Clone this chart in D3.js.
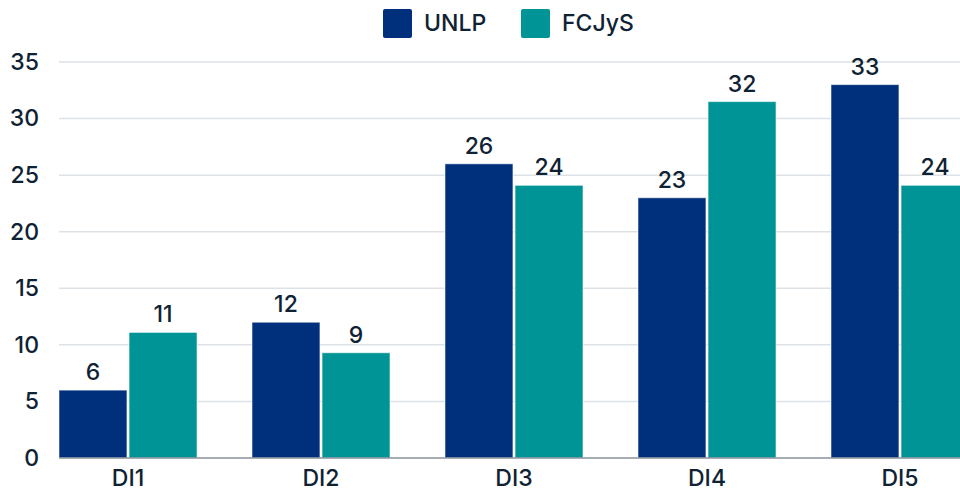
<!DOCTYPE html>
<html>
<head>
<meta charset="utf-8">
<script src="https://cdn.jsdelivr.net/npm/d3@7"></script>
<style>
  html, body { margin: 0; padding: 0; background: #fff; }
  svg { display: block; font-family: Inter, "Open Sans", sans-serif; font-weight: 500; }
</style>
</head>
<body>
<svg id="chart" width="960" height="497"></svg>
<script>
const categories = ["DI1", "DI2", "DI3", "DI4", "DI5"];
const seriesNames = ["UNLP", "FCJyS"];
const unlpValues = [6, 12, 26, 23, 33];
const fcjysValues = [11.1, 9.3, 24.1, 31.5, 24.1];
const yTicks = [0, 5, 10, 15, 20, 25, 30, 35];
const colors = ["#002f7c", "#009496"];

const svg = d3.select("#chart");
const textColor = "#0f2233";
const fs = 23;

const y = d3.scaleLinear().domain([0, 35]).range([458, 62]);
const x0 = d3.scaleBand().domain(categories).range([59, 969]).paddingInner(55 / 193).paddingOuter(0);
const x1 = d3.scaleBand().domain(seriesNames).range([0, x0.bandwidth()]).paddingInner(0.03);

const series = [unlpValues, fcjysValues];

// gridlines
svg.append("g")
  .selectAll("line")
  .data(yTicks.filter(t => t > 0))
  .join("line")
  .attr("x1", 59).attr("x2", 960)
  .attr("y1", d => y(d)).attr("y2", d => y(d))
  .attr("stroke", "#dde2e7").attr("stroke-width", 1.5);

// y axis labels
const yAxis = d3.axisLeft(y).tickValues(yTicks).tickSize(0).tickPadding(0).tickFormat(d3.format("d"));
const yg = svg.append("g").attr("transform", "translate(39,0)").call(yAxis);
yg.select(".domain").remove();
yg.selectAll("text").attr("font-size", fs).attr("fill", textColor).attr("font-family", "Inter, sans-serif").attr("font-weight", 500);

// bars
const groups = svg.append("g").selectAll("g")
  .data(categories)
  .join("g")
  .attr("transform", d => `translate(${x0(d)},0)`);

groups.selectAll("rect")
  .data((d, i) => seriesNames.map((s, j) => ({ s, v: series[j][i] })))
  .join("rect")
  .attr("x", d => x1(d.s))
  .attr("y", d => y(d.v))
  .attr("width", x1.bandwidth())
  .attr("height", d => y(0) - y(d.v))
  .attr("fill", d => colors[seriesNames.indexOf(d.s)])
  .attr("stroke", "rgba(255,255,255,0.55)")
  .attr("stroke-width", 1);

groups.selectAll("text")
  .data((d, i) => seriesNames.map((s, j) => ({ s, v: series[j][i] })))
  .join("text")
  .attr("x", d => x1(d.s) + x1.bandwidth() / 2)
  .attr("y", d => y(d.v) - 10)
  .attr("text-anchor", "middle")
  .attr("font-size", fs)
  .attr("fill", textColor)
  .text(d => d3.format(".0f")(d.v));

// baseline
svg.append("line")
  .attr("x1", 59).attr("x2", 960)
  .attr("y1", y(0)).attr("y2", y(0))
  .attr("stroke", "#8a929b").attr("stroke-width", 1.5);

// x axis labels
const xAxis = d3.axisBottom(x0).tickSize(0).tickPadding(12);
const xg = svg.append("g").attr("transform", `translate(0,${y(0)})`).call(xAxis);
xg.select(".domain").remove();
xg.selectAll("text").attr("font-size", fs).attr("fill", textColor).attr("font-family", "Inter, sans-serif").attr("font-weight", 500);

// legend
const legendX = [383, 521];
const lg = svg.append("g").selectAll("g")
  .data(seriesNames)
  .join("g")
  .attr("transform", (d, i) => `translate(${legendX[i]},9)`);
lg.append("rect")
  .attr("width", 29).attr("height", 29).attr("rx", 2)
  .attr("fill", (d, i) => colors[i]);
lg.append("text")
  .attr("x", 41).attr("y", 22)
  .attr("font-size", fs)
  .attr("fill", textColor)
  .text(d => d);
</script>
</body>
</html>
